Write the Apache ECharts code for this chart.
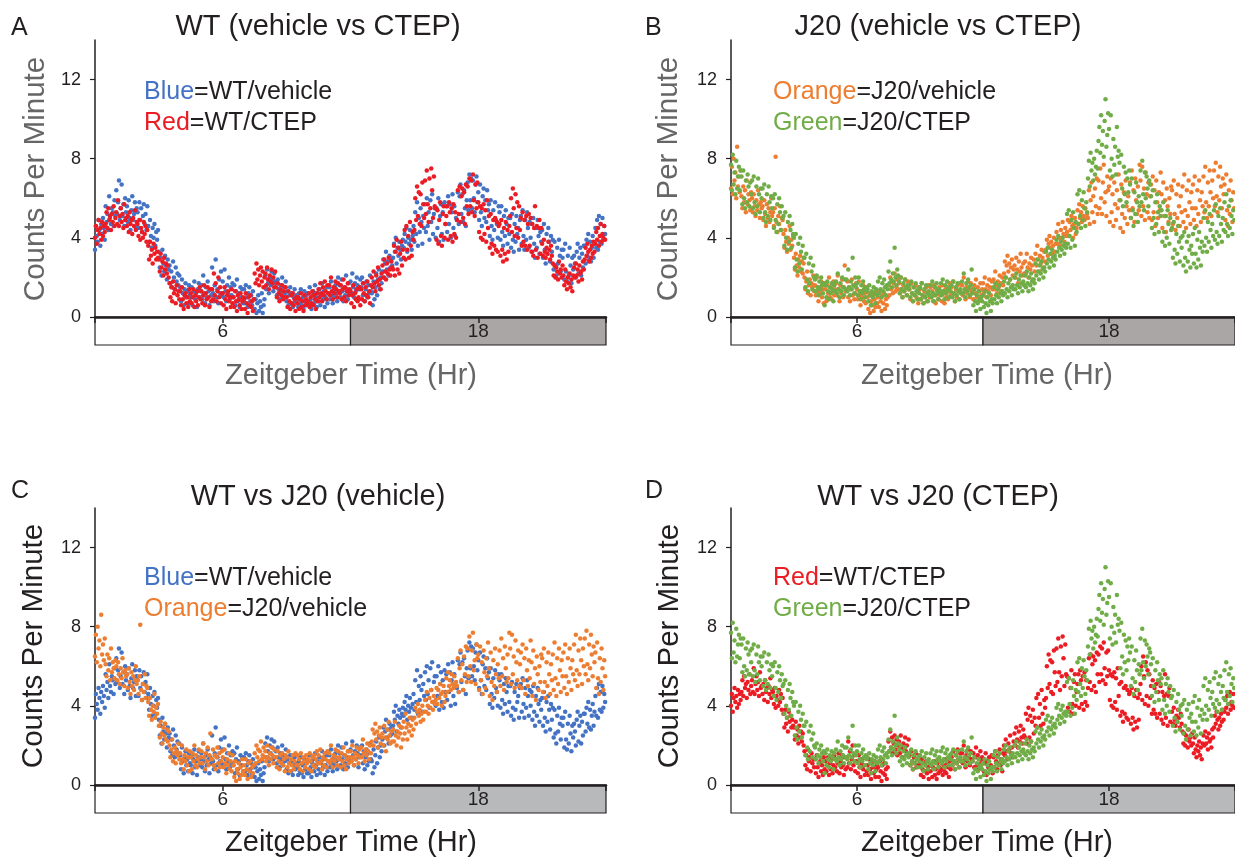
<!DOCTYPE html>
<html>
<head>
<meta charset="utf-8">
<script src="https://cdn.jsdelivr.net/npm/echarts@6/dist/echarts.min.js"></script>
<style>html,body{margin:0;padding:0;background:#fff;}#c{width:1235px;height:859px;}</style>
</head>
<body>
<div id="c"></div>
<script>
// Activity samples from ZT 0 to ZT 24, one value every 2.5 minutes (24 values per hour row)

// WT / vehicle (blue)
const wtVehicle = [
3.4,4.6,4.1,3.8,4.9,4.4,3.6,4.7,4.2,5.0,4.5,3.9,5.6,4.8,5.2,4.4,6.1,5.0,4.7,5.5,5.3,4.6,5.9,5.1,
6.4,5.2,5.8,6.9,4.9,5.5,6.7,5.1,5.7,4.6,6.0,5.3,5.6,4.8,5.9,5.0,4.4,5.4,6.1,4.9,5.2,5.8,4.5,5.5,
5.3,4.5,5.8,4.9,5.5,4.3,5.1,5.7,4.7,5.2,4.4,5.6,4.6,3.8,4.9,4.1,3.5,4.5,4.0,4.7,3.6,4.3,3.9,4.4,
3.3,2.5,3.0,2.1,3.4,2.7,2.3,3.1,2.6,1.9,2.9,2.4,2.6,1.7,2.3,1.5,2.8,2.0,1.4,2.5,1.8,2.2,1.6,2.1,
1.5,0.8,1.9,1.2,0.6,1.4,1.7,1.0,1.3,0.7,1.6,1.1,1.0,1.5,0.6,1.3,1.8,0.9,1.2,0.5,1.4,1.7,1.0,1.3,
1.6,0.9,2.1,1.2,0.7,1.5,1.0,1.8,1.3,0.6,1.4,1.1,2.5,1.2,0.8,1.6,2.9,1.0,1.4,0.7,1.9,1.2,2.3,1.1,
1.8,1.0,2.4,1.3,0.8,1.6,1.2,2.0,0.9,1.5,1.1,1.7,1.0,1.6,0.6,1.3,1.9,0.8,1.2,0.5,1.5,1.0,1.4,0.7,
1.4,0.7,1.6,1.0,0.5,1.2,1.5,0.8,1.1,0.6,1.3,0.9,0.4,0.9,0.2,0.7,1.1,0.3,0.8,0.5,1.2,0.2,0.6,0.9,
2.1,1.4,2.4,1.7,1.2,2.0,1.6,2.3,1.9,1.3,2.2,1.8,1.7,1.1,1.9,1.4,0.9,1.6,1.3,2.0,1.0,1.5,1.2,1.8,
0.8,1.3,0.6,1.1,1.5,0.7,1.2,0.5,1.0,1.4,0.8,1.1,0.9,0.5,1.2,0.7,1.4,0.6,1.0,0.4,1.3,0.8,1.1,0.6,
1.2,0.6,1.5,0.9,0.4,1.1,1.3,0.7,1.6,1.0,0.5,1.2,0.8,1.4,0.6,1.1,1.7,0.9,1.3,0.5,1.0,1.5,0.7,1.2,
1.5,0.9,1.8,1.1,0.7,1.4,1.0,1.6,1.2,0.8,2.0,1.3,1.6,1.0,1.9,1.3,0.8,1.5,1.1,2.1,1.4,0.9,1.7,1.2,
1.8,1.2,2.2,1.5,1.0,1.7,1.3,2.0,1.6,0.9,1.4,1.9,1.5,2.0,1.1,1.7,0.8,1.4,1.8,1.0,1.6,1.2,2.1,1.3,
1.2,0.6,1.8,0.9,1.5,2.2,1.1,1.9,2.4,1.4,2.0,1.7,2.3,2.9,2.0,2.7,3.3,2.4,2.8,2.1,3.1,2.5,2.9,2.6,
3.0,3.7,3.3,4.0,2.7,3.5,3.1,3.8,3.4,2.9,3.6,3.9,3.5,4.2,3.8,4.5,3.3,4.0,3.7,4.4,3.9,3.4,4.1,4.6,
3.8,5.3,4.2,5.8,3.6,5.0,4.3,5.5,4.8,3.7,5.1,4.5,5.7,4.3,6.0,4.6,5.3,3.9,5.9,4.8,6.2,4.2,5.2,5.5,
4.0,5.5,4.5,6.0,3.8,5.1,5.7,4.2,5.3,3.9,5.8,4.7,5.6,4.3,6.1,4.7,5.7,4.0,5.3,6.2,4.5,5.6,4.1,5.0,
4.9,6.3,4.7,6.1,6.7,5.2,6.2,4.8,6.4,5.5,4.6,5.9,6.8,5.4,7.2,5.9,7.0,5.5,6.9,6.0,5.3,6.7,7.1,5.8,
6.3,4.9,6.7,5.3,4.6,6.1,6.5,5.0,5.9,4.8,6.4,5.4,5.7,4.1,5.9,4.6,3.9,5.4,4.4,5.8,4.9,4.7,4.0,5.6,
5.3,3.9,5.6,4.3,3.6,5.1,4.1,5.4,4.7,3.7,5.0,4.2,5.0,3.5,5.2,3.9,3.3,4.7,3.8,5.1,4.2,4.5,3.4,4.9,
5.1,3.7,5.4,4.1,3.4,4.9,3.9,5.3,4.5,3.5,4.8,4.0,4.7,3.3,5.0,3.7,3.0,4.5,3.5,4.9,4.1,3.2,4.3,3.8,
4.4,3.0,4.7,3.4,2.7,4.2,3.2,4.5,3.8,2.8,4.1,3.3,3.9,2.4,3.8,2.6,2.1,3.5,2.7,3.9,3.1,2.3,3.4,3.0,
3.4,1.9,3.7,2.3,1.8,3.1,2.1,3.5,2.6,1.7,3.0,2.4,3.1,2.7,2.0,3.3,3.7,2.2,3.0,3.5,2.1,3.2,2.5,3.6,
3.6,2.7,3.9,3.1,4.2,2.9,3.8,2.8,3.5,4.1,3.0,3.7,4.5,3.5,4.9,3.4,5.1,3.8,4.7,3.7,5.0,3.9,4.6,4.2
];

// WT / CTEP (red)
const wtCtep = [
4.0,4.6,3.7,4.4,4.9,4.2,4.5,3.9,4.8,4.1,4.6,4.3,4.7,5.3,4.5,5.5,4.9,5.1,4.4,5.2,4.8,5.6,4.6,5.0,
5.3,4.7,5.9,4.6,5.1,5.5,4.8,5.2,4.5,5.7,4.9,5.0,4.6,5.1,4.3,5.3,4.7,4.9,4.2,5.0,4.6,5.4,4.4,4.8,
4.7,4.1,4.9,3.9,4.5,4.3,4.0,4.8,4.2,4.6,3.8,4.4,3.6,2.9,3.8,3.1,3.4,2.7,3.7,3.2,3.5,2.9,3.3,3.0,
2.9,2.3,3.2,2.5,2.8,2.1,3.0,2.4,2.7,2.2,2.6,2.0,1.7,1.0,1.5,0.8,1.8,1.2,1.4,0.7,1.6,1.1,1.3,0.9,
1.3,0.6,1.5,0.9,0.4,1.1,1.2,0.7,1.0,0.5,1.4,0.8,1.2,0.7,1.0,1.4,0.5,1.1,0.8,1.3,0.6,1.0,1.5,0.9,
1.3,0.7,1.1,1.6,0.6,1.2,0.9,1.5,1.0,0.5,1.4,0.8,1.4,0.9,2.2,1.1,1.7,0.8,1.3,2.0,1.0,1.5,0.7,1.2,
1.2,0.6,1.5,0.9,0.4,1.1,1.3,0.8,1.0,0.5,1.4,0.7,1.0,0.5,1.3,0.8,0.3,1.1,0.9,0.6,1.2,0.4,0.8,1.0,
0.9,0.4,1.2,0.7,0.2,1.0,0.6,1.1,0.5,0.8,0.3,0.9,2.2,1.7,2.7,1.9,2.4,1.6,2.1,2.5,1.8,2.3,1.5,2.0,
2.2,1.6,2.5,1.9,1.4,2.1,1.8,2.4,1.7,2.0,1.5,2.3,1.5,1.0,1.7,1.2,0.8,1.4,1.1,1.6,0.9,1.3,1.0,1.5,
1.0,0.5,1.3,0.8,0.4,1.1,0.7,1.2,0.6,0.9,0.3,1.0,0.7,1.0,0.4,0.9,1.2,0.5,0.8,0.3,1.1,0.6,0.9,0.7,
0.8,1.2,0.5,1.0,0.7,1.3,0.6,1.1,0.9,0.4,1.2,0.8,1.4,1.0,1.7,1.2,0.8,1.5,1.1,1.8,1.3,0.9,1.6,1.2,
1.6,1.1,2.0,1.3,0.9,1.5,1.2,1.8,1.4,1.0,1.7,1.3,1.2,1.6,0.9,1.4,1.9,1.0,1.5,0.8,1.3,1.7,1.1,1.4,
1.3,0.7,1.1,1.6,0.5,1.2,0.9,1.4,0.8,1.0,1.5,0.6,1.4,0.9,1.7,1.2,0.8,1.5,1.1,1.8,1.0,1.3,0.7,1.6,
2.0,1.5,2.3,1.7,1.3,2.1,1.8,2.5,1.6,1.9,1.4,2.2,2.6,2.0,2.9,2.3,1.9,2.7,2.2,3.0,2.4,2.1,2.8,2.5,
2.4,3.6,2.1,3.3,3.9,2.4,3.5,2.2,3.2,3.8,2.6,3.4,3.0,4.4,2.9,4.6,3.4,4.1,3.0,4.8,3.6,3.1,4.3,3.9,
4.4,6.0,4.9,6.6,5.1,6.3,4.7,6.2,4.6,6.8,5.7,5.0,6.9,5.2,7.4,5.7,4.8,7.0,5.5,7.5,6.4,5.0,7.1,5.6,
5.5,3.9,5.4,3.7,4.9,5.8,4.1,3.6,5.2,5.6,4.0,4.7,5.1,5.6,3.9,5.8,5.3,4.1,5.5,3.8,5.7,4.2,5.3,4.0,
4.9,6.4,5.2,6.6,4.8,6.1,6.5,5.0,6.3,4.7,6.7,5.6,6.6,5.2,7.0,5.6,6.9,5.3,7.2,5.9,5.1,6.7,5.5,6.8,
5.8,4.3,5.6,4.0,5.5,3.9,5.7,4.2,5.4,3.8,5.9,4.5,5.1,3.5,5.2,3.7,3.2,4.9,3.6,5.0,3.4,4.8,3.3,4.6,
4.7,3.1,4.9,3.4,2.8,4.5,3.2,4.8,2.9,4.4,3.3,4.6,5.1,6.0,4.3,6.5,5.5,4.1,6.2,4.5,5.8,4.0,5.6,4.4,
5.0,3.6,5.3,3.8,4.9,3.6,5.1,3.4,4.7,5.2,3.6,5.0,3.3,4.7,3.1,4.5,5.6,3.4,4.6,3.0,4.5,4.9,3.2,4.5,
3.7,3.1,3.9,3.3,3.0,3.5,3.2,3.8,3.4,2.9,3.6,3.1,2.7,2.1,2.6,2.0,2.5,2.3,1.9,2.8,2.2,2.4,2.0,2.6,
2.1,1.6,2.4,1.8,1.4,2.0,1.7,2.2,1.5,1.9,1.3,2.1,2.5,2.0,2.7,2.1,2.4,1.8,2.6,2.2,2.3,1.9,2.8,2.4,
2.9,3.5,3.1,3.7,3.3,2.8,3.4,3.0,3.6,3.2,3.8,3.3,3.7,4.3,3.9,4.5,3.6,4.1,4.7,3.8,4.2,4.0,4.6,3.9
];

// J20 / vehicle (orange)
const j20Vehicle = [
6.5,7.6,6.2,8.0,6.9,7.3,6.0,8.6,6.6,7.1,6.3,7.4,6.1,5.5,6.6,5.8,6.4,5.3,6.9,5.7,6.2,5.9,5.4,6.3,
6.0,5.3,6.2,5.6,5.1,5.9,5.4,6.4,5.7,5.0,5.8,5.5,5.6,4.9,5.9,5.2,4.6,5.7,5.0,5.5,4.8,5.3,6.0,5.1,
5.3,4.6,5.5,8.1,4.8,4.3,5.1,4.7,5.6,4.4,5.0,4.9,4.2,3.5,4.4,3.8,3.3,4.0,3.7,4.6,3.4,3.9,3.6,4.1,
3.0,2.4,3.2,2.6,2.1,2.9,2.5,3.1,2.3,2.8,2.2,2.7,2.0,1.4,1.8,2.3,1.2,1.6,1.9,1.1,1.7,1.5,2.1,1.3,
1.6,1.1,2.0,1.3,0.8,1.5,1.2,1.8,1.0,1.4,0.7,1.7,1.4,0.8,1.6,1.2,2.0,1.0,1.5,0.9,1.3,1.8,1.1,1.4,
1.7,1.1,2.1,1.4,0.8,1.6,1.2,1.9,1.0,1.5,2.6,1.3,1.3,1.8,1.0,1.5,0.8,1.4,1.9,1.1,1.6,0.9,1.2,1.7,
1.4,0.9,1.8,1.1,0.6,1.3,1.0,1.6,0.8,1.2,0.7,1.5,1.0,0.4,1.2,0.2,0.8,0.6,1.1,0.3,0.9,0.5,1.3,0.7,
1.0,0.5,1.3,0.8,0.3,1.1,0.7,1.2,0.4,0.9,0.6,1.0,1.6,1.1,2.0,1.4,1.8,1.2,1.7,2.2,1.3,1.5,1.9,1.4,
1.7,1.2,2.0,1.4,1.0,1.6,1.3,1.9,1.5,1.1,1.8,1.4,1.4,0.9,1.7,1.2,0.8,1.5,1.1,1.6,1.0,1.3,0.7,1.5,
1.4,0.9,1.7,1.1,0.7,1.3,1.0,1.5,0.8,1.2,1.6,1.0,1.5,1.0,1.3,0.8,1.6,1.1,0.7,1.4,1.2,0.9,1.5,1.1,
1.3,0.8,1.6,1.2,0.7,1.4,1.0,1.5,0.9,1.3,1.7,1.1,1.5,1.1,1.8,1.2,0.8,1.4,1.0,1.6,1.3,0.9,1.7,1.2,
1.6,1.1,2.0,1.3,0.9,1.5,1.2,1.8,1.4,1.0,1.7,1.3,1.4,0.9,1.6,1.2,1.9,1.0,1.5,0.8,1.3,1.7,1.1,1.4,
1.7,1.2,2.0,1.4,1.0,1.6,1.3,1.9,1.5,1.1,1.8,1.4,1.9,1.4,2.3,1.6,1.2,1.8,1.5,2.1,1.7,1.3,2.0,1.6,
2.2,2.8,2.0,2.6,3.1,2.3,2.7,1.9,2.5,2.9,2.1,2.4,2.6,2.0,3.0,2.4,1.7,2.8,2.3,3.2,2.5,2.1,2.7,2.2,
2.8,2.2,3.2,2.5,2.0,2.7,2.4,3.0,2.6,1.9,2.9,2.3,3.2,2.6,3.6,2.9,2.3,3.1,2.7,3.4,3.0,2.5,3.3,2.8,
3.4,3.9,3.1,3.7,4.1,3.5,3.8,3.2,3.6,4.0,3.3,3.7,4.3,3.7,4.7,4.0,3.6,4.4,3.9,4.8,4.2,3.8,4.5,4.1,
4.3,4.9,4.1,4.8,4.4,5.1,4.6,4.0,4.7,5.0,4.2,4.5,5.4,4.7,5.7,5.0,5.3,4.8,5.6,5.1,4.9,5.5,5.0,5.2,
5.0,6.4,4.7,5.9,6.8,5.3,6.1,4.8,6.5,5.6,7.0,5.2,6.9,5.5,7.5,6.0,5.2,6.8,7.7,5.8,6.3,5.1,7.1,6.4,
6.6,4.8,7.0,5.3,6.2,4.6,6.8,5.7,4.9,6.4,5.5,7.2,5.9,4.5,6.7,5.2,4.3,6.3,5.0,6.9,5.6,4.7,6.1,5.4,
6.8,5.0,7.4,5.5,6.4,4.8,7.0,5.9,5.2,6.6,5.4,7.7,6.9,5.1,7.6,5.6,6.5,4.9,7.3,6.2,5.3,6.8,5.0,6.1,
6.7,4.9,7.1,5.3,6.4,4.6,6.9,5.8,5.0,6.3,5.4,7.3,6.2,4.5,6.8,5.1,5.9,4.3,6.5,5.6,4.8,6.0,5.2,6.6,
6.4,4.7,6.9,5.2,4.4,6.2,5.0,6.7,5.6,4.6,6.1,5.3,6.6,4.8,7.2,5.4,4.5,6.4,5.1,6.9,5.8,4.7,6.3,5.5,
6.7,4.9,7.1,5.5,4.6,6.4,5.2,6.9,5.9,4.8,6.3,5.6,7.1,5.3,7.6,5.8,5.0,6.8,5.6,7.4,6.3,5.1,6.9,6.0,
7.4,5.6,7.8,6.1,5.3,7.1,5.9,7.6,6.6,5.5,7.0,6.2,6.7,4.9,7.2,5.4,4.6,6.4,5.2,6.9,5.9,4.8,6.3,5.5
];

// J20 / CTEP (green)
const j20Ctep = [
7.7,6.4,8.2,6.7,7.3,6.2,7.9,6.5,7.1,7.6,6.4,7.4,7.1,5.7,7.4,6.0,5.5,6.9,5.8,7.2,6.6,5.6,6.8,6.2,
6.9,5.5,7.1,5.8,5.2,6.6,5.6,7.0,6.2,5.3,6.5,6.0,6.5,5.0,6.7,5.3,4.8,6.2,5.1,6.6,5.8,4.9,6.1,5.5,
6.0,4.5,6.2,4.9,4.3,5.7,4.7,6.0,5.3,4.4,5.6,5.0,5.1,3.6,5.3,4.0,3.4,4.8,3.8,5.1,4.4,3.5,4.7,4.2,
4.0,2.5,4.2,2.9,2.3,3.7,2.7,4.0,3.3,2.4,3.6,3.0,3.0,1.5,3.2,1.9,1.3,2.7,1.7,3.0,2.3,1.4,2.6,2.0,
1.9,1.3,2.1,1.5,1.1,1.8,1.4,2.0,1.6,1.2,1.7,0.6,1.6,1.0,1.8,1.3,0.9,1.5,1.2,1.7,1.4,0.8,1.6,1.3,
1.8,1.2,2.2,1.4,1.0,1.7,1.3,2.0,1.5,1.1,1.9,1.4,1.9,1.3,2.4,1.5,1.1,1.8,1.4,3.0,1.6,1.2,2.0,1.5,
1.7,1.1,2.0,1.3,0.9,1.6,1.2,1.8,1.4,1.0,1.5,1.3,1.4,0.8,1.6,1.1,0.6,1.3,1.0,1.5,1.2,0.7,1.4,1.1,
1.8,1.2,2.0,1.4,1.0,1.7,1.3,1.9,1.5,1.1,1.6,1.4,2.3,1.7,2.8,1.9,1.5,2.2,1.8,3.5,2.0,1.6,2.4,2.1,
1.8,1.2,2.0,1.4,1.0,1.7,1.3,1.9,1.5,1.1,1.6,1.4,1.6,1.0,1.8,1.2,0.8,1.5,1.1,1.7,1.3,0.9,1.4,1.2,
1.5,0.9,1.7,1.1,0.7,1.4,1.0,1.6,1.2,0.8,1.3,1.1,1.6,1.0,1.8,1.2,0.8,1.5,1.1,1.7,1.3,0.9,1.4,1.2,
1.7,1.1,1.9,1.3,0.9,1.6,1.2,1.8,1.4,1.0,1.5,1.3,1.6,1.0,1.8,1.2,0.8,1.5,1.1,1.7,1.3,0.9,1.4,1.2,
1.8,1.2,2.2,1.4,1.0,1.7,1.3,1.9,1.5,1.1,1.6,2.4,1.2,0.6,1.4,0.8,0.3,1.1,0.7,1.3,0.9,0.4,1.0,0.8,
1.1,0.5,1.3,0.7,0.2,1.0,0.6,1.2,0.8,0.3,0.9,0.7,1.5,0.9,1.7,1.1,0.7,1.4,1.0,1.6,1.2,0.8,1.3,1.1,
1.8,1.2,2.0,1.4,1.0,1.7,1.3,1.9,1.5,1.1,1.6,1.4,2.0,1.4,2.2,1.6,1.2,1.9,1.5,2.1,1.7,1.3,1.8,1.6,
2.1,1.5,2.3,1.7,1.3,2.0,1.6,2.2,1.8,1.4,1.9,1.7,2.7,2.1,2.9,2.3,1.9,2.6,2.2,2.8,2.4,2.0,2.5,2.3,
3.3,2.7,3.5,2.9,2.5,3.2,2.8,3.4,3.0,2.6,3.1,2.9,3.9,3.3,4.1,3.5,3.1,3.8,3.4,4.0,3.6,3.2,3.7,3.5,
5.2,3.7,5.4,4.1,3.5,4.9,3.9,5.3,4.5,3.6,4.8,4.3,6.2,4.7,6.4,5.1,4.5,5.9,4.9,6.3,5.5,4.6,5.8,5.3,
7.0,7.9,6.6,8.3,7.4,7.8,6.9,8.0,7.2,7.6,8.4,7.5,8.9,9.6,8.3,10.2,8.7,9.4,8.1,9.9,11.0,8.6,9.2,10.3,
9.5,7.4,10.2,8.0,7.1,9.0,7.7,8.6,7.2,9.6,8.1,8.4,7.8,5.9,8.2,6.5,5.6,7.6,6.2,7.3,5.8,7.0,6.3,7.4,
6.7,5.0,7.0,5.4,4.6,6.3,5.2,6.8,5.8,4.8,6.1,5.6,7.4,5.8,7.9,6.2,5.4,7.3,6.0,7.1,6.5,5.6,6.9,6.7,
6.1,4.5,6.4,5.0,4.2,5.8,4.7,6.2,5.3,4.3,5.6,5.1,5.4,3.8,5.8,4.3,3.6,5.1,4.0,5.4,4.7,3.7,5.0,4.4,
4.5,3.0,4.8,3.4,2.7,4.2,3.2,4.6,3.8,2.8,4.0,3.5,4.1,2.6,4.3,3.0,2.3,3.8,2.8,4.1,3.4,2.5,3.6,3.2,
4.2,2.7,4.5,3.2,2.5,3.9,2.9,4.3,3.5,2.6,3.8,3.3,5.0,3.6,5.4,4.0,3.3,4.8,3.8,5.2,4.4,3.5,4.7,4.1,
5.4,3.9,5.7,4.3,3.7,5.1,4.1,5.5,4.7,3.8,5.0,4.4,5.8,4.3,6.2,4.7,4.1,5.6,4.5,5.9,5.1,4.2,5.4,4.9
];

// Light/dark phase bar
const phaseStart = [0, 12];
const phaseEnd = [12, 24];
const phaseLabel = ['6', '18'];
const yTicks = [0, 4, 8, 12];
const xTicks = [0, 6, 18, 24];

const panelTitles = ['WT (vehicle vs CTEP)', 'J20 (vehicle vs CTEP)', 'WT vs J20 (vehicle)', 'WT vs J20 (CTEP)'];
const panelLetters = ['A', 'B', 'C', 'D'];
const yAxisTitle = 'Counts Per Minute';
const xAxisTitle = 'Zeitgeber Time (Hr)';

const C = {blue: '#4472c4', red: '#ec1c24', orange: '#ed7d31', green: '#70ad47', ink: '#231f20'};
const FONT = 'Liberation Sans, Arial, sans-serif';

function pairs(arr) { const step = 24 / arr.length; return arr.map((v, i) => [i * step, v]); }

const panels = [
  {left: 95, top: 40, series: [['WT/vehicle', wtVehicle, C.blue], ['WT/CTEP', wtCtep, C.red]],
   legend: [['Blue', C.blue, '=WT/vehicle'], ['Red', C.red, '=WT/CTEP']], gray: '#aaa6a6', muted: true},
  {left: 731, top: 40, series: [['J20/vehicle', j20Vehicle, C.orange], ['J20/CTEP', j20Ctep, C.green]],
   legend: [['Orange', C.orange, '=J20/vehicle'], ['Green', C.green, '=J20/CTEP']], gray: '#aaa6a6', muted: true},
  {left: 95, top: 508, series: [['WT/vehicle', wtVehicle, C.blue], ['J20/vehicle', j20Vehicle, C.orange]],
   legend: [['Blue', C.blue, '=WT/vehicle'], ['Orange', C.orange, '=J20/vehicle']], gray: '#b8b9bb', muted: false},
  {left: 731, top: 508, series: [['WT/CTEP', wtCtep, C.red], ['J20/CTEP', j20Ctep, C.green]],
   legend: [['Red', C.red, '=WT/CTEP'], ['Green', C.green, '=J20/CTEP']], gray: '#b8b9bb', muted: false}
];
const W = 511, H = 277, BAR = 28;

const grid = [], xAxis = [], yAxis = [], series = [], graphic = [];
panels.forEach((p, k) => {
  const g = 2 * k, gb = 2 * k + 1;
  grid.push({left: p.left, top: p.top, width: W, height: H});
  grid.push({left: p.left, top: p.top + H, width: W, height: BAR});
  xAxis.push({gridIndex: g, type: 'value', min: 0, max: 24, z: 5,
    axisLine: {show: true, onZero: false, lineStyle: {color: C.ink, width: 2.5}},
    axisTick: {show: true, customValues: xTicks, length: 6, lineStyle: {color: C.ink, width: 1.5}},
    axisLabel: {show: false}, splitLine: {show: false}});
  xAxis.push({gridIndex: gb, type: 'value', min: 0, max: 24, show: false});
  yAxis.push({gridIndex: g, type: 'value', min: 0, max: 14,
    axisLine: {show: true, lineStyle: {color: C.ink, width: 1.5}},
    axisTick: {show: true, customValues: yTicks, length: 5, lineStyle: {color: C.ink, width: 1.2}},
    axisLabel: {customValues: yTicks, color: C.ink, fontSize: 18, fontFamily: FONT, margin: 14},
    splitLine: {show: false}});
  yAxis.push({gridIndex: gb, type: 'value', min: 0, max: 1, show: false});
  p.series.forEach(s => {
    series.push({type: 'scatter', name: s[0], xAxisIndex: g, yAxisIndex: g, data: pairs(s[1]),
      symbol: 'circle', symbolSize: 4.5, itemStyle: {color: s[2], opacity: 1}, silent: true, animation: false});
  });
  series.push({type: 'custom', xAxisIndex: gb, yAxisIndex: gb, animation: false, silent: true, z: 1,
    data: phaseStart.map((s, i) => [s, phaseEnd[i], i]),
    renderItem: (params, api) => {
      const i = api.value(2);
      const a = api.coord([api.value(0), 1]);
      const b = api.coord([api.value(1), 0]);
      return {type: 'group', children: [
        {type: 'rect', shape: {x: a[0], y: a[1], width: b[0] - a[0], height: b[1] - a[1]},
         style: {fill: i === 0 ? '#ffffff' : p.gray, stroke: C.ink, lineWidth: 1.2}},
        {type: 'text', style: {text: phaseLabel[i], x: (a[0] + b[0]) / 2, y: (a[1] + b[1]) / 2 + 1,
          align: 'center', verticalAlign: 'middle', font: '19px ' + FONT, fill: C.ink}}
      ]};
    }});
});

const titleCenters = [[318, 27], [938, 27], [318, 497], [938, 497]];
const letterPos = [[11, 28], [645, 28], [11, 491], [645, 491]];
const legendPos = [[144, 92], [773, 92], [144, 578], [773, 578]];
const yTitlePos = [[36, 179], [669, 179], [34, 646], [670, 646]];
const xTitlePos = [[351, 376], [987, 376], [351, 843], [987, 843]];

panels.forEach((p, k) => {
  const muted = p.muted ? '#666666' : C.ink;
  graphic.push({type: 'text', x: letterPos[k][0], y: letterPos[k][1],
    style: {text: panelLetters[k], font: '25px ' + FONT, fill: C.ink, verticalAlign: 'middle'}});
  graphic.push({type: 'text', x: titleCenters[k][0], y: titleCenters[k][1],
    style: {text: panelTitles[k], font: '29px ' + FONT, fill: C.ink, align: 'center', verticalAlign: 'middle'}});
  p.legend.forEach((L, j) => {
    graphic.push({type: 'text', x: legendPos[k][0], y: legendPos[k][1] + j * 31,
      style: {text: '{c|' + L[0] + '}{k|' + L[2] + '}', verticalAlign: 'middle',
        rich: {c: {fill: L[1], font: '25px ' + FONT}, k: {fill: C.ink, font: '25px ' + FONT}}}});
  });
  graphic.push({type: 'text', x: yTitlePos[k][0], y: yTitlePos[k][1], rotation: Math.PI / 2,
    style: {text: yAxisTitle, font: '29.5px ' + FONT, fill: muted, align: 'center', verticalAlign: 'middle'}});
  graphic.push({type: 'text', x: xTitlePos[k][0], y: xTitlePos[k][1],
    style: {text: xAxisTitle, font: '29px ' + FONT, fill: muted, align: 'center', verticalAlign: 'middle'}});
});

const chart = echarts.init(document.getElementById('c'), null, {renderer: 'canvas'});
chart.setOption({backgroundColor: '#ffffff', animation: false, grid, xAxis, yAxis, series, graphic});
</script>
</body>
</html>
